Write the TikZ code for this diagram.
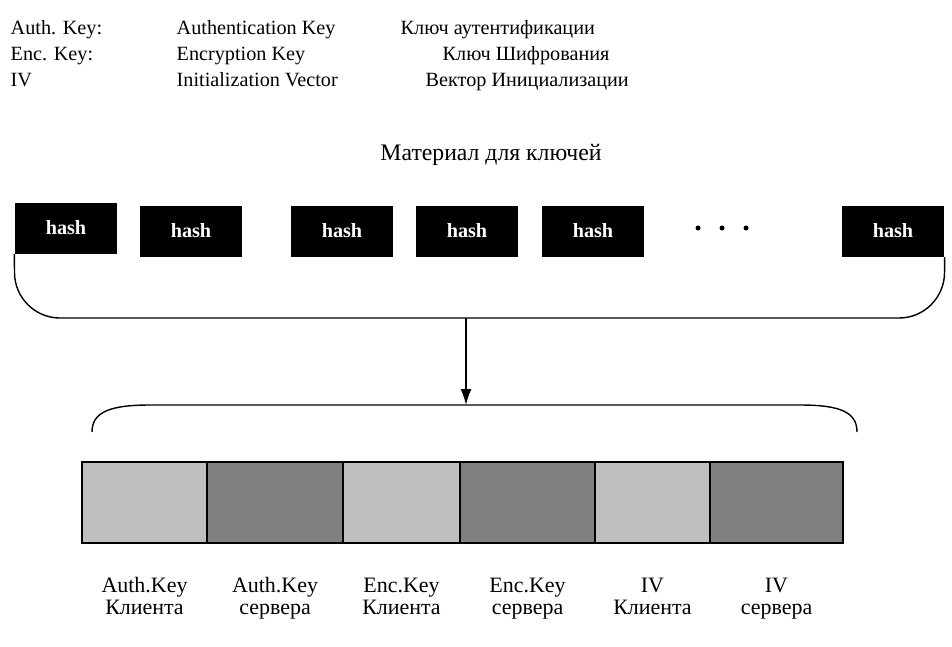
\documentclass[tikz,border=0pt]{standalone}
\usepackage{fontspec}
\setmainfont{Liberation Serif}
\usepackage{tikz}
\usetikzlibrary{arrows.meta,positioning}
\tikzset{>=latex}
\colorlet{lightkey}{black!25}
\colorlet{darkkey}{black!50}
\tikzset{hashbox/.style={fill=black, text=white, inner sep=0pt, minimum width=2.04cm, minimum height=1.02cm, font=\bfseries\fontsize{11.5}{13}\selectfont}}
\tikzset{keypart/.style={draw=black, line width=1.2, inner sep=0pt, minimum height=1.62cm}}
\tikzset{legend/.style={anchor=base west, inner sep=0pt, font=\fontsize{11.5}{13}\selectfont}}
\tikzset{keylabel/.style={align=center, inner sep=0pt, font=\fontsize{12.5}{12.5}\selectfont}}

\begin{document}
\begin{tikzpicture}[x=0.02cm, y=-0.02cm, line width=0.8]
			\useasboundingbox (0,0) rectangle (952,646);
			
			% Legend
			\node[legend] (abbA) at (10,34) {Auth. Key:};
			\node[legend] (abbE) at (10,60) {Enc. Key:};
			\node[legend] (abbI) at (10,86) {IV};
			\node[legend] (engA) at (176,34) {Authentication Key};
			\node[legend] (engE) at (176,60) {Encryption Key};
			\node[legend] (engI) at (176,86) {Initialization Vector};
			\node[legend] (rusA) at (400,34) {Ключ аутентификации};
			\node[legend] (rusE) at (442,60) {Ключ Шифрования};
			\node[legend] (rusI) at (425,86) {Вектор Инициализации};
			
			% Key material
			\node[inner sep=0pt, font=\fontsize{13.5}{15}\selectfont] (material) at (491,155) {Материал для ключей};
			\node[hashbox] (h1) at (66,228) {hash};
			\node[hashbox] (h2) at (191,231) {hash};
			\node[hashbox] (h3) at (342,231) {hash};
			\node[hashbox] (h4) at (467,231) {hash};
			\node[hashbox] (h5) at (593,231) {hash};
			\node[hashbox] (h6) at (893,231) {hash};
			%% Dots
			\foreach \dx in {698,722,746}
				\fill (\dx,228) circle [radius=0.05cm];
			
			% Braces
			\coordinate (top) at (466,318);
			\coordinate (bot) at (466,405);
			\draw[rounded corners=0.9cm] (h1.south west) -- (15,318) -- (944,318) -- (h6.south east);
			\draw (92,432) .. controls (92,412) and (110,405) .. (150,405) -- (800,405) .. controls (840,405) and (857,412) .. (857,432);
			\draw[-{Latex[length=0.32cm,width=0.22cm]}] (top) -- (bot);
			
			% Key block
			\node[keypart, fill=lightkey, minimum width=2.50cm] (authcl) at (144.5,502.5) {};
			\node[keypart, fill=darkkey, minimum width=2.72cm] (authsrv) at (275,502.5) {};
			\node[keypart, fill=lightkey, minimum width=2.34cm] (enccl) at (401.5,502.5) {};
			\node[keypart, fill=darkkey, minimum width=2.70cm] (encsrv) at (527.5,502.5) {};
			\node[keypart, fill=lightkey, minimum width=2.30cm] (ivcl) at (652.5,502.5) {};
			\node[keypart, fill=darkkey, minimum width=2.66cm] (ivsrv) at (776.5,502.5) {};
			
			% Labels
			\node[keylabel, below=0.64cm of authcl] {\strut Auth.Key\\\strut Клиента};
			\node[keylabel, below=0.64cm of authsrv] {\strut Auth.Key\\\strut сервера};
			\node[keylabel, below=0.64cm of enccl] {\strut Enc.Key\\\strut Клиента};
			\node[keylabel, below=0.64cm of encsrv] {\strut Enc.Key\\\strut сервера};
			\node[keylabel, below=0.64cm of ivcl] {\strut IV\\\strut Клиента};
			\node[keylabel, below=0.64cm of ivsrv] {\strut IV\\\strut сервера};
\end{tikzpicture}
\end{document}
